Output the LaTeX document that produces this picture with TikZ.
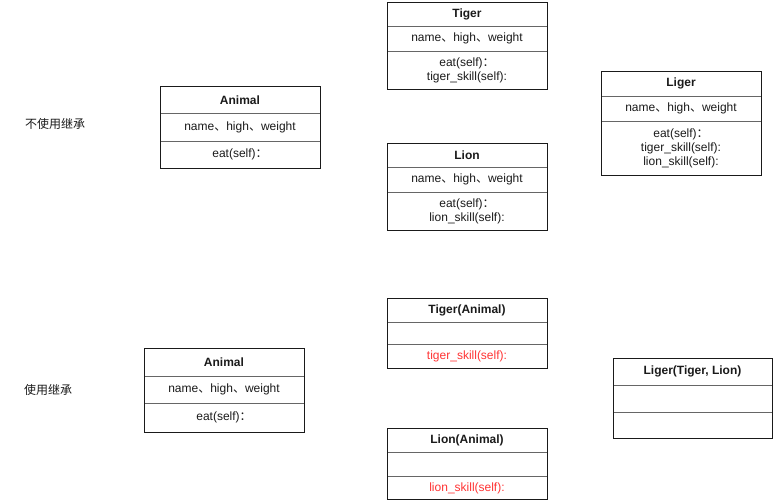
\documentclass[tikz,border=0pt]{standalone}
\usepackage{fontspec}
\setmainfont{Liberation Sans}
\newfontfamily\cjk{Noto Sans CJK SC}
\definecolor{divgray}{HTML}{666666}
\definecolor{edge}{HTML}{1A1A1A}
\definecolor{redtxt}{HTML}{FF3333}
\definecolor{txt}{HTML}{1A1A1A}
\newcommand{\dun}{{\cjk 、}}
\newcommand{\fcolon}{{\cjk ：}}
\begin{document}
\begin{tikzpicture}[x=1pt,y=-1pt,
  comp/.style={draw=divgray, line width=0.8pt, inner sep=0pt, outer sep=0pt, minimum width=160pt,
    anchor=north west, align=center, text=txt, font=\fontsize{12}{14}\selectfont},
  hdr/.style={comp, font=\fontsize{12}{14}\selectfont\bfseries},
  outer/.style={draw=edge, line width=0.9pt},
  lbl/.style={font=\cjk\fontsize{12}{14}\selectfont, anchor=west, inner sep=0pt, text=txt},
  red/.style={text=redtxt}]
\useasboundingbox (0,0) rectangle (774,501);
% ---------- top: without inheritance
\node[lbl] (lab1) at (25,124) {不使用继承};
% Animal
\node[hdr, minimum height=27.5pt] (a1h) at (160,86) {Animal};
\node[comp, minimum height=27.5pt] (a1a) at (a1h.south west) {name\dun high\dun weight};
\node[comp, minimum height=27pt] (a1m) at (a1a.south west) {eat(self)\fcolon};
\draw[outer] (a1h.north west) rectangle (a1m.south east);
% Tiger
\node[hdr, minimum height=24pt] (th) at (387,2) {Tiger};
\node[comp, minimum height=25pt] (ta) at (th.south west) {name\dun high\dun weight};
\node[comp, minimum height=38pt] (tm) at (ta.south west) {eat(self)\fcolon\\tiger\_skill(self):};
\draw[outer] (th.north west) rectangle (tm.south east);
% Lion
\node[hdr, minimum height=24pt] (lh) at (387,143) {Lion};
\node[comp, minimum height=25pt] (la) at (lh.south west) {name\dun high\dun weight};
\node[comp, minimum height=38pt] (lm) at (la.south west) {eat(self)\fcolon\\lion\_skill(self):};
\draw[outer] (lh.north west) rectangle (lm.south east);
% Liger
\node[hdr, minimum height=25pt] (gh) at (601,71) {Liger};
\node[comp, minimum height=25pt] (ga) at (gh.south west) {name\dun high\dun weight};
\node[comp, minimum height=54pt] (gm) at (ga.south west) {eat(self)\fcolon\\tiger\_skill(self):\\lion\_skill(self):};
\draw[outer] (gh.north west) rectangle (gm.south east);
% ---------- bottom: with inheritance
\node[lbl] (lab2) at (24,390) {使用继承};
% Animal
\node[hdr, minimum height=28pt] (a2h) at (144,348) {Animal};
\node[comp, minimum height=27pt] (a2a) at (a2h.south west) {name\dun high\dun weight};
\node[comp, minimum height=29pt] (a2m) at (a2a.south west) {eat(self)\fcolon};
\draw[outer] (a2h.north west) rectangle (a2m.south east);
% Tiger(Animal)
\node[hdr, minimum height=24pt] (t2h) at (387,298) {Tiger(Animal)};
\node[comp, minimum height=22pt] (t2a) at (t2h.south west) {};
\node[comp, minimum height=24pt, red] (t2m) at (t2a.south west) {tiger\_skill(self):};
\draw[outer] (t2h.north west) rectangle (t2m.south east);
% Lion(Animal)
\node[hdr, minimum height=24pt] (l2h) at (387,428) {Lion(Animal)};
\node[comp, minimum height=24.5pt] (l2a) at (l2h.south west) {};
\node[comp, minimum height=23pt, red] (l2m) at (l2a.south west) {lion\_skill(self):};
\draw[outer] (l2h.north west) rectangle (l2m.south east);
% Liger(Tiger, Lion)
\node[hdr, minimum width=159pt, minimum height=27pt] (g2h) at (613,358) {Liger(Tiger, Lion)};
\node[comp, minimum width=159pt, minimum height=27pt] (g2a) at (g2h.south west) {};
\node[comp, minimum width=159pt, minimum height=26pt] (g2m) at (g2a.south west) {};
\draw[outer] (g2h.north west) rectangle (g2m.south east);
\end{tikzpicture}
\end{document}
